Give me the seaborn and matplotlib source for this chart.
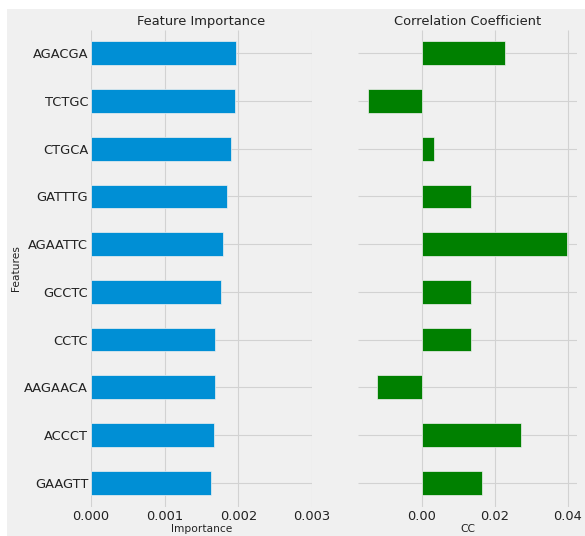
import matplotlib
matplotlib.use("Agg")
import matplotlib.pyplot as plt
from matplotlib.patches import Rectangle
import seaborn as sns

# k-mer features, ranked by model importance
features = ["AGACGA", "TCTGC", "CTGCA", "GATTTG", "AGAATTC",
            "GCCTC", "CCTC", "AAGAACA", "ACCCT", "GAAGTT"]
importance = [0.00197, 0.00195, 0.00190, 0.00185, 0.00179,
              0.00176, 0.00169, 0.00168, 0.00167, 0.00163]
correlation = [0.0229, -0.0147, 0.0034, 0.0136, 0.0398,
               0.0134, 0.0136, -0.0123, 0.0271, 0.0164]
importance_ticks = [0.000, 0.001, 0.002, 0.003]
importance_ticklabels = ["0.000", "0.001", "0.002", "0.003"]
cc_ticks = [0.00, 0.02, 0.04]
cc_ticklabels = ["0.00", "0.02", "0.04"]

plt.style.use("fivethirtyeight")
plt.rcParams["font.family"] = ["DejaVu Sans"]

W, H = 585, 536
fig = plt.figure(figsize=(W / 100, H / 100), dpi=100, facecolor="white")
fig.patches.append(Rectangle((7 / W, 0), 1 - 7 / W, 1 - 9 / H,
                             transform=fig.transFigure, facecolor="#f0f0f0",
                             edgecolor="none", zorder=-10))

top_px, bot_px = 29.5, 506.5
ax_bottom = 1 - bot_px / H
ax_height = (bot_px - top_px) / H
ax1 = fig.add_axes([91 / W, ax_bottom, 221 / W, ax_height])
ax2 = fig.add_axes([358 / W, ax_bottom, 219 / W, ax_height])

bar_kw = dict(width=0.5, saturation=1, edgecolor="#f0f0f0", linewidth=0.5)
sns.barplot(x=importance, y=features, orient="h", color="#008fd5", ax=ax1, **bar_kw)
sns.barplot(x=correlation, y=features, orient="h", color="green", ax=ax2, **bar_kw)

ax1.set_xlim(0, 0.003)
ax1.set_xticks(importance_ticks)
ax1.set_xticklabels(importance_ticklabels)
ax2.set_xticks(cc_ticks)
ax2.set_xticklabels(cc_ticklabels)

text_color = "#222222"
for ax in (ax1, ax2):
    ax.set_facecolor("#f0f0f0")
    ax.grid(True, axis="both", color="#d2d2d2", linewidth=0.8)
    ax.set_axisbelow(True)
    for s in ax.spines.values():
        s.set_visible(False)
    ax.tick_params(axis="both", length=0, labelsize=9.4, colors=text_color)
    ax.tick_params(axis="x", pad=2.5)
    ax.tick_params(axis="y", pad=2)

ax2.tick_params(axis="y", labelleft=False)

ax1.set_title("Feature Importance", fontsize=9.4, pad=3, color=text_color)
ax2.set_title("Correlation Coefficient", fontsize=9.4, pad=3, color=text_color)
ax1.set_xlabel("Importance", fontsize=7.7, labelpad=1, color=text_color)
ax2.set_xlabel("CC", fontsize=7.7, labelpad=1, color=text_color)
ax1.set_ylabel("Features", fontsize=7.7, color=text_color)
ax1.yaxis.set_label_coords(-0.318, 0.5)
ax2.set_ylabel("")

fig.savefig("out.png", dpi=100, facecolor="white")
